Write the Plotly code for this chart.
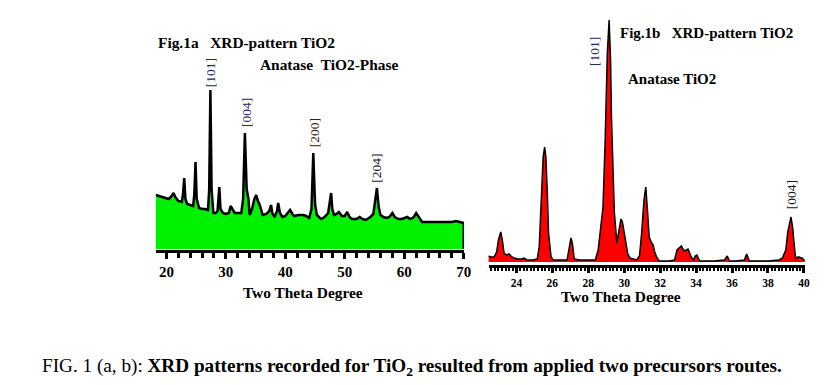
import plotly.graph_objects as go

# ---- Data ----
# Fig.1a : 2-theta (deg) and intensity (arb. units)
a_theta = [18.2, 18.7, 19.2, 19.8, 20.4, 20.9, 21.2, 21.5, 22.0, 22.6, 22.8, 23.0, 23.2, 23.5, 24.0,
           24.5, 24.7, 24.9, 25.1, 25.5, 26.0, 26.5, 27.0, 27.2, 27.4, 27.6, 27.9, 28.3, 28.6, 28.9,
           29.1, 29.5, 30.0, 30.5, 30.8, 31.2, 31.5, 32.0, 32.6, 32.9, 33.2, 33.5, 33.8, 34.0, 34.4,
           34.8, 35.1, 35.4, 35.7, 36.2, 36.8, 37.3, 37.6, 37.8, 38.2, 38.6, 38.8, 39.1, 39.5, 40.0,
           40.5, 40.8, 41.2, 41.5, 42.2, 43.0, 43.5, 44.0, 44.4, 44.7, 45.0, 45.3, 46.0, 46.6, 47.2,
           47.5, 47.7, 47.9, 48.2, 48.6, 49.0, 49.5, 50.0, 50.4, 50.8, 51.2, 52.0, 52.5, 53.0, 53.5,
           54.3, 54.8, 55.1, 55.4, 55.7, 56.0, 56.5, 57.0, 57.5, 58.0, 58.4, 59.0, 59.6, 60.5, 61.0,
           61.6, 62.0, 62.4, 63.0, 64.0, 65.0, 66.0, 67.0, 68.0, 68.7, 69.3, 70.0]
a_int = [54, 53, 52, 51, 50, 53, 56, 52, 48, 47, 55, 71, 50, 45, 44,
         43, 55, 87, 50, 41, 40, 40, 39, 60, 159, 60, 36, 36, 38, 62,
         40, 36, 35, 36, 43, 38, 36, 36, 36, 50, 116, 60, 50, 34, 40,
         50, 54, 48, 44, 34, 35, 38, 44, 36, 32, 38, 46, 36, 32, 33,
         37, 39, 35, 33, 34, 34, 33, 31, 40, 96, 45, 34, 30, 32, 36,
         46, 56, 40, 34, 35, 37, 33, 33, 37, 32, 30, 30, 32, 30, 29,
         32, 35, 48, 61, 42, 34, 32, 31, 32, 36, 32, 30, 30, 32, 30,
         32, 36, 32, 27, 27, 27, 27, 27, 27, 28, 27, 26]

# Fig.1b : 2-theta (deg) and intensity (arb. units)
b_theta = [22.43, 22.6, 22.76, 22.9, 23.0, 23.13, 23.22, 23.31, 23.45, 23.59, 23.75, 23.87, 24.1, 24.3,
           24.42, 24.6, 24.9, 25.16, 25.27, 25.38, 25.49, 25.57, 25.64, 25.71, 25.79, 25.93, 26.05,
           26.5, 26.82, 26.92, 27.04, 27.12, 27.22, 27.5, 28.0, 28.39, 28.55, 28.66, 28.82, 28.94,
           28.99, 29.06, 29.16, 29.24, 29.29, 29.36, 29.45, 29.59, 29.7, 29.82, 29.9, 30.0, 30.1,
           30.2, 30.32, 30.69, 30.85, 30.97, 31.1, 31.2, 31.3, 31.39, 31.5, 31.61, 31.7, 31.8, 31.94,
           32.5, 32.8, 32.94, 33.05, 33.18, 33.27, 33.36, 33.55, 33.63, 33.73, 33.86, 33.95, 34.04,
           34.12, 34.2, 35.0, 35.58, 35.73, 35.86, 36.2, 36.69, 36.81, 36.96, 37.5, 38.0, 38.62,
           38.8, 38.99, 39.1, 39.28, 39.37, 39.45, 39.54, 39.65, 39.72, 39.85, 39.9, 40.05]
b_int = [6, 5, 5, 10, 22, 30, 22, 9, 7, 8, 5, 4, 3, 3,
         4, 2, 2, 3, 15, 62, 105, 115, 105, 75, 29, 5, 2,
         2, 2, 12, 24, 18, 3, 2, 2, 2, 12, 29, 55, 122,
         162, 209, 242, 202, 145, 95, 50, 19, 30, 43, 40, 30, 19,
         8, 4, 2, 6, 29, 62, 75, 50, 25, 20, 17, 10, 5, 1,
         1, 2, 12, 14, 16, 13, 11, 13, 9, 5, 2, 6, 7,
         4, 1, 1, 2, 6, 1, 1, 2, 8, 1, 1, 1, 2,
         4, 12, 30, 45, 35, 19, 3, 5, 5, 4, 4, 1]

# Peak labels
a_peaks = ["[101]", "[004]", "[200]", "[204]"]
b_peaks = ["[101]", "[004]"]
a_ticks = [20, 30, 40, 50, 60, 70]
b_ticks = [24, 26, 28, 30, 32, 34, 36, 38, 40]

W, H = 828, 385
SERIF = "Liberation Serif, Times New Roman, serif"

def px(x):
    return x / W

def py(y):
    return 1 - y / H

fig = go.Figure()
fig.add_trace(go.Scatter(
    x=a_theta + [a_theta[-1]], y=a_int + [0], mode="lines",
    line=dict(color="black", width=2.5), fill="tozeroy", fillcolor="#00f200",
    xaxis="x", yaxis="y", hoverinfo="skip"))
fig.add_trace(go.Scatter(
    x=b_theta, y=b_int, mode="lines",
    line=dict(color="black", width=1.5), fill="tozeroy", fillcolor="#ff0000",
    xaxis="x2", yaxis="y2", hoverinfo="skip"))

tickfont_a = dict(family=SERIF, size=15, color="black", weight="bold")
tickfont_b = dict(family=SERIF, size=11.5, color="black", weight="bold")

fig.update_layout(
    width=W, height=H, margin=dict(l=0, r=0, t=0, b=0),
    paper_bgcolor="white", plot_bgcolor="white", showlegend=False,
    xaxis=dict(domain=[px(157), px(468)], range=[18.2, 70.05], anchor="y",
               showline=True, linecolor="black", linewidth=2.5,
               tickmode="array", tickvals=a_ticks, ticktext=[str(t) for t in a_ticks],
               ticks="outside", ticklen=6, tickwidth=2.5, tickcolor="black",
               minor=dict(dtick=2, tick0=0, ticks="outside", ticklen=5, tickwidth=2.5, tickcolor="black"),
               tickfont=tickfont_a, ticklabelstandoff=0, showgrid=False, zeroline=False),
    yaxis=dict(domain=[py(250), py(50)], range=[-1, 199], anchor="x",
               showline=False, showticklabels=False, showgrid=False, zeroline=False, ticks=""),
    xaxis2=dict(domain=[px(492.7), px(811.7)], range=[22.45, 40.05], anchor="y2",
                showline=True, linecolor="black", linewidth=2.5,
                tickmode="array", tickvals=b_ticks, ticktext=[str(t) for t in b_ticks],
                ticks="outside", ticklen=5, tickwidth=2.5, tickcolor="black",
                minor=dict(dtick=0.2, tick0=0, ticks="outside", ticklen=3.5, tickwidth=1.5, tickcolor="black"),
                tickfont=tickfont_b, ticklabelstandoff=0, showgrid=False, zeroline=False),
    yaxis2=dict(domain=[py(265), py(12)], range=[-3, 250], anchor="x2",
                showline=False, showticklabels=False, showgrid=False, zeroline=False, ticks=""),
)

NB = "\u00a0"
ann = []

def text(x, y, s, size=14, bold=True, color="black", xanchor="left", angle=0, family=SERIF):
    ann.append(dict(x=px(x), y=py(y), xref="paper", yref="paper", text=s, showarrow=False,
                    xanchor=xanchor, yanchor="middle", textangle=angle,
                    font=dict(family=family, size=size, color=color, weight="bold" if bold else "normal")))

# Panel a texts
text(157, 42, "Fig.1a" + NB * 3 + "XRD-pattern TiO2", 15.4)
text(260, 65, "Anatase" + NB * 2 + "TiO2-Phase", 15.4)
text(306, 292, "Two Theta Degree", 15.4, xanchor="center")
a_label_pos = [(213, 73, "#1c2a6a"), (248, 112, "#1c2a6a"), (317, 133, "#3a2410"), (380, 168, "#151515")]
for lab, (x, y, c) in zip(a_peaks, a_label_pos):
    text(x, y, lab, 13.5, bold=False, color=c, xanchor="center", angle=-90)

# Panel b texts
text(623, 33, "Fig.1b" + NB * 3 + "XRD-pattern TiO2", 15)
text(631, 79, "Anatase TiO2", 15)
text(626, 296, "Two Theta Degree", 15.4, xanchor="center")
b_label_pos = [(600, 51, "#1c2a6a"), (799, 195, "#151515")]
for lab, (x, y, c) in zip(b_peaks, b_label_pos):
    text(x, y, lab, 13.5, bold=False, color=c, xanchor="center", angle=-90)

# Caption
ann.append(dict(x=px(415.5), y=py(367), xref="paper", yref="paper", showarrow=False,
                xanchor="center", yanchor="middle",
                text="FIG. 1 (a, b): <b>XRD patterns recorded for TiO<sub>2</sub> resulted from applied two precursors routes.</b>",
                font=dict(family=SERIF, size=19.2, color="black")))

fig.update_layout(annotations=ann)
fig.write_html("out.html", config={"displayModeBar": False},
               post_script="document.body.style.margin='0';document.body.style.overflow='hidden';")
